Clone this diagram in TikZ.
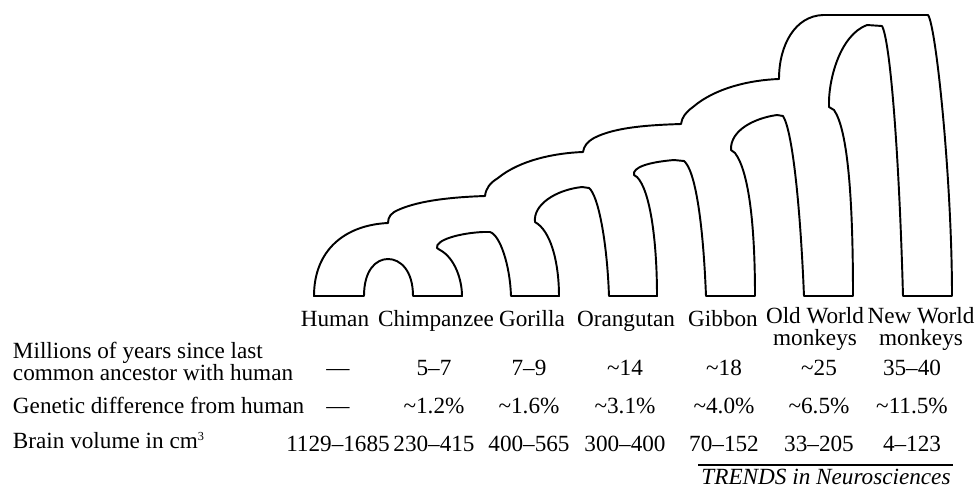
\documentclass[tikz,border=0pt]{standalone}
\usepackage{fontspec}
\setmainfont{Liberation Serif}
\usetikzlibrary{positioning}
\begin{document}
\begin{tikzpicture}[x=0.02cm,y=-0.02cm,line width=1.1pt,
 txt/.style={inner sep=0pt,anchor=base,align=center,font=\fontsize{13.2}{12.2}\selectfont},
 rowlbl/.style={txt,align=left,anchor=base west}]
\useasboundingbox(0,0)rectangle(978,488);
\draw[line join=round](314,296) .. controls (314,250) and (345,225) .. (388,223)
 .. controls (388,217) and (391,213) .. (398,210) .. controls (420,200) and (455,197) .. (485,196)
 .. controls (486,188) and (490,183) .. (498,178) .. controls (520,160) and (555,153) .. (583,152)
 .. controls (584,146) and (587,142) .. (594,138) .. controls (615,127) and (650,125) .. (681,124)
 .. controls (682,117) and (686,112) .. (693,107) .. controls (715,88) and (750,80) .. (779,79)
 .. controls (779,45) and (795,16) .. (823,15) -- (928,15)
 .. controls (936,25) and (952,180) .. (952,296) -- (903,296)
 .. controls (899,150) and (890,40) .. (882,26) -- (867,25)
 .. controls (840,35) and (828,80) .. (829,107) -- (834,110)
 .. controls (848,130) and (853,200) .. (853,296) -- (804,296)
 .. controls (800,200) and (792,130) .. (783,116) -- (777,115)
 .. controls (755,118) and (730,130) .. (731,150) -- (735,153)
 .. controls (748,170) and (755,220) .. (755,296) -- (706,296)
 .. controls (703,220) and (695,170) .. (684,161) -- (674,160)
 .. controls (650,162) and (632,167) .. (634,175) -- (637,177)
 .. controls (650,190) and (657,240) .. (657,296) -- (609,296)
 .. controls (607,240) and (598,195) .. (589,188) -- (582,187)
 .. controls (555,190) and (533,205) .. (535,222) -- (538,224)
 .. controls (552,235) and (559,265) .. (559,296) -- (511,296)
 .. controls (510,265) and (500,235) .. (490,232) -- (483,232)
 .. controls (460,233) and (435,240) .. (437,248) -- (440,250)
 .. controls (455,258) and (462,280) .. (462,296) -- (413,296)
 .. controls (413,270) and (400,259) .. (388,259) .. controls (376,259) and (364,270) .. (364,296)
 -- cycle;
\foreach \x/\nm/\n in {335/Human/human,436/Chimpanzee/chimp,532/Gorilla/gorilla,626/Orangutan/orang,
 723/Gibbon/gibbon}
 \node[txt](\n) at (\x,326){\nm};
\node[txt](oldw) at (815,345){Old World\\monkeys};
\node[txt](neww) at (921,345){New World\\monkeys};
\node[rowlbl](yrs) at (12,380){Millions of years since last\\common ancestor with human};
\node[rowlbl](gen) at (12,413){Genetic difference from human};
\node[rowlbl](brain) at (12,448){Brain volume in cm\textsuperscript{\fontsize{7}{7}\selectfont 3}};
\foreach \x/\y/\g/\b/\n in {338/---/---/1129--1685/human,434/5--7/\textasciitilde1.2\%/230--415/chimp,
 529/7--9/\textasciitilde1.6\%/400--565/gorilla,625/\textasciitilde14/\textasciitilde3.1\%/300--400/orang,
 724/\textasciitilde18/\textasciitilde4.0\%/70--152/gibbon,819/\textasciitilde25/\textasciitilde6.5\%/33--205/oldw,
 912/35--40/\textasciitilde11.5\%/4--123/neww}
 {\node[txt](y-\n) at (\x,375){\y};
  \node[txt](g-\n) at (\x,413.5){\g};
  \node[txt](b-\n) at (\x,451){\b};}
\node[txt,font=\fontsize{13.2}{12.2}\selectfont\itshape](trends) at (826,484){TRENDS in Neurosciences};
\draw[line width=0.6pt](698,465)--(953,465);
\end{tikzpicture}
\end{document}
